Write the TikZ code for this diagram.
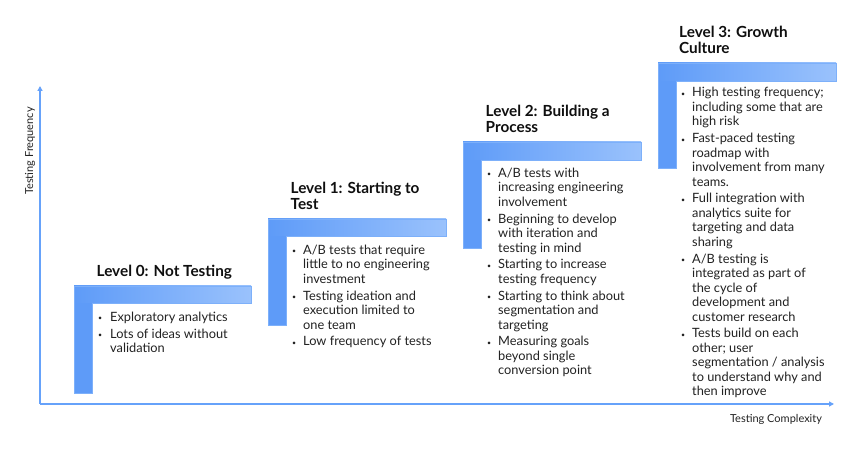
\documentclass[tikz,border=0pt]{standalone}
\usepackage{fontspec}
\setmainfont{Lato}
\usetikzlibrary{arrows.meta}
\definecolor{barL}{RGB}{94,155,248}
\definecolor{barR}{RGB}{154,194,252}
\definecolor{barEdge}{RGB}{125,176,250}
\definecolor{axisc}{RGB}{102,162,250}
\definecolor{txt}{RGB}{34,34,34}
\definecolor{ttl}{RGB}{15,15,15}
\newcommand\drawLbar[6]{%
  \fill[barL] (#1,#6) rectangle (#5,#4);
  \shade[left color=barL,right color=barR] (#1,#4) rectangle (#3,#2);
  \draw[barEdge,line width=0.6pt] (#1,#6) -- (#1,#2) -- (#3,#2) -- (#3,#4) -- (#5,#4) -- (#5,#6) -- cycle;
}
\tikzset{
  ttlnode/.style={anchor=base west,inner sep=0pt,text=ttl,font=\bfseries\fontsize{15.3}{16}\selectfont},
  bulnode/.style={anchor=base west,inner sep=0pt,text=txt,font=\fontsize{12.8}{14.5}\selectfont},
  axlabel/.style={inner sep=0pt,text=txt,font=\fontsize{11}{13}\selectfont},
  axisline/.style={axisc,line width=1.3pt,-{Triangle[width=5pt,length=5pt]}}
}
\newcommand\blt{\raisebox{0.5pt}{\scriptsize\textbullet}}
\begin{document}
\begin{tikzpicture}[x=1pt,y=1pt]
\fill[white] (0,0) rectangle (856,449);
\useasboundingbox (0,0) rectangle (856,449);
% axes
\coordinate (origin) at (40,45);
\coordinate (ytip) at (40,363);
\coordinate (xtip) at (834,45);
\draw[axisline] (origin) -- (ytip);
\draw[axisline] (origin) -- (xtip);
\node[axlabel,rotate=90] (ylab) at (30,298) {Testing Frequency};
\node[axlabel] (xlab) at (776,30) {Testing Complexity};
% L bars
\drawLbar{74}{163}{251}{146}{92}{56}
\drawLbar{268}{230}{446}{213}{286}{124}
\drawLbar{463}{307}{641}{289}{481}{201}
\drawLbar{658}{386}{836}{368}{676}{281}
% titles
\node[ttlnode] (t0) at (96.5,172.5) {\begin{tabular}[t]{@{}l@{}}Level 0: Not Testing\end{tabular}};
\node[ttlnode] (t1) at (290.5,255.5) {\begin{tabular}[t]{@{}l@{}}Level 1: Starting to\\Test\end{tabular}};
\node[ttlnode] (t2) at (485.5,332.5) {\begin{tabular}[t]{@{}l@{}}Level 2: Building a\\Process\end{tabular}};
\node[ttlnode] (t3) at (679,411.5) {\begin{tabular}[t]{@{}l@{}}Level 3: Growth\\Culture\end{tabular}};
% bullets
\node[bulnode] (b0) at (98,127.5) {\begin{tabular}[t]{@{}p{12pt}@{}l@{}}
\blt & Exploratory analytics\\[2.2pt]
\blt & Lots of ideas without\\
 & validation
\end{tabular}};
\node[bulnode] (b1) at (292,194.5) {\begin{tabular}[t]{@{}p{11pt}@{}l@{}}
\blt & A/B tests that require\\
 & little to no engineering\\
 & investment\\[2.2pt]
\blt & Testing ideation and\\
 & execution limited to\\
 & one team\\[2.2pt]
\blt & Low frequency of tests
\end{tabular}};
\node[bulnode] (b2) at (487,271.5) {\begin{tabular}[t]{@{}p{11pt}@{}l@{}}
\blt & A/B tests with\\
 & increasing engineering\\
 & involvement\\[2.2pt]
\blt & Beginning to develop\\
 & with iteration and\\
 & testing in mind\\[2.2pt]
\blt & Starting to increase\\
 & testing frequency\\[2.2pt]
\blt & Starting to think about\\
 & segmentation and\\
 & targeting\\[2.2pt]
\blt & Measuring goals\\
 & beyond single\\
 & conversion point
\end{tabular}};
\node[bulnode] (b3) at (681,352) {\begin{tabular}[t]{@{}p{11pt}@{}l@{}}
\blt & High testing frequency;\\
 & including some that are\\
 & high risk\\[2.2pt]
\blt & Fast-paced testing\\
 & roadmap with\\
 & involvement from many\\
 & teams.\\[2.2pt]
\blt & Full integration with\\
 & analytics suite for\\
 & targeting and data\\
 & sharing\\[2.2pt]
\blt & A/B testing is\\
 & integrated as part of\\
 & the cycle of\\
 & development and\\
 & customer research\\[2.2pt]
\blt & Tests build on each\\
 & other; user\\
 & segmentation / analysis\\
 & to understand why and\\
 & then improve
\end{tabular}};
\end{tikzpicture}
\end{document}
